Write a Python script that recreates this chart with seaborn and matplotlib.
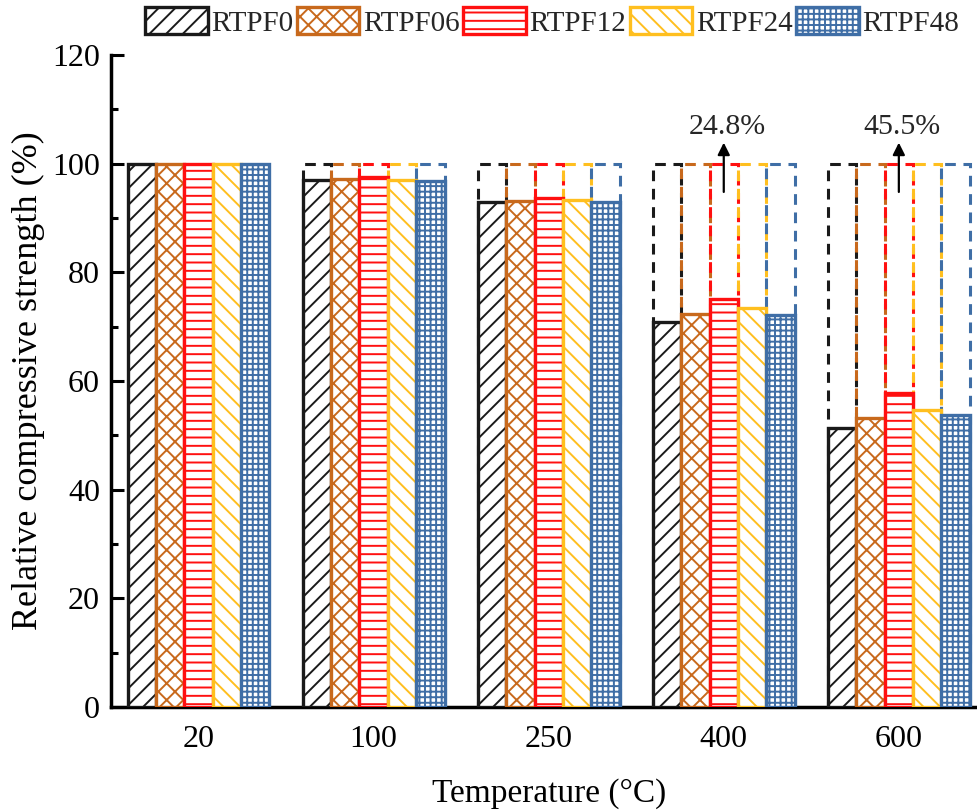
import numpy as np
import pandas as pd
import matplotlib
matplotlib.use("Agg")
import matplotlib.pyplot as plt
import seaborn as sns
from matplotlib.patches import Patch

# data
temperatures = ["20", "100", "250", "400", "600"]
series = ["RTPF0", "RTPF06", "RTPF12", "RTPF24", "RTPF48"]
rtpf0 = [100.0, 97.0, 92.9, 70.8, 51.4]
rtpf06 = [100.0, 97.2, 93.2, 72.4, 53.2]
rtpf12 = [100.0, 97.6, 93.7, 75.2, 57.8]
rtpf24 = [100.0, 97.0, 93.4, 73.5, 54.6]
rtpf48 = [100.0, 96.9, 93.0, 72.1, 53.7]
reference = [np.nan, 100.0, 100.0, 100.0, 100.0]
gains = {"400": "24.8%", "600": "45.5%"}

colors = ["#1a1a1a", "#c8691c", "#ff1010", "#ffbf1f", "#3f6ea6"]
hatches = ["//", "xx", "--", "\\\\", "+++"]

values = [rtpf0, rtpf06, rtpf12, rtpf24, rtpf48]
df = pd.DataFrame(
    [(t, s, v[i]) for s, v in zip(series, values) for i, t in enumerate(temperatures)],
    columns=["temperature", "group", "strength"],
)
ref_df = pd.DataFrame(
    [(t, s, reference[i]) for s in series for i, t in enumerate(temperatures)],
    columns=["temperature", "group", "strength"],
)

sns.set_theme(style="ticks")
plt.rcParams["font.family"] = ["Liberation Serif", "DejaVu Serif"]
plt.rcParams["hatch.linewidth"] = 1.4

fig = plt.figure(figsize=(9.77, 8.10), dpi=100)
ax = fig.add_axes([0.1136, 0.127, 0.896, 0.805])

# dashed outlines at the 20 °C reference level
sns.barplot(
    data=ref_df, x="temperature", y="strength", hue="group",
    order=temperatures, hue_order=series, width=0.81, gap=0,
    palette=colors, fill=False, linewidth=2.2, linestyle=(0, (3.5, 2.5)),
    legend=False, ax=ax, zorder=1,
)
for cont, c in zip(ax.containers, colors):
    for p in cont:
        p.set_edgecolor(c)

n_ref = len(ax.containers)
sns.barplot(
    data=df, x="temperature", y="strength", hue="group",
    order=temperatures, hue_order=series, width=0.81, gap=0,
    palette=colors, linewidth=2.4, legend=False, ax=ax, zorder=3,
)
for cont, c, h in zip(ax.containers[n_ref:], colors, hatches):
    for p in cont:
        p.set_facecolor("white")
        p.set_edgecolor(c)
        p.set_hatch(h)

for t, label in gains.items():
    xi = temperatures.index(t)
    ax.annotate(
        "", xy=(xi, 104.4), xytext=(xi, 94.3),
        arrowprops=dict(arrowstyle="-|>", color="black", lw=1.6, mutation_scale=18),
        zorder=5,
    )
    ax.text(xi + 0.02, 106.8, label, ha="center", va="center", fontsize=21.5)

ax.set_xlim(-0.5, 4.5)
ax.set_ylim(0, 120)
ax.set_yticks(np.arange(0, 121, 20))
ax.set_yticks(np.arange(10, 120, 20), minor=True)
ax.tick_params(axis="both", which="major", direction="in", length=9, width=2.2,
               labelsize=23, color="black", labelcolor="black")
ax.tick_params(axis="y", which="minor", direction="in", length=5, width=2.2, color="black")
ax.tick_params(axis="x", pad=13)
ax.tick_params(axis="y", pad=8)
for side in ["top", "right"]:
    ax.spines[side].set_visible(False)
for side in ["left", "bottom"]:
    ax.spines[side].set_linewidth(2.5)
    ax.spines[side].set_color("black")

ax.set_xlabel("Temperature (°C)", fontsize=24, labelpad=17, color="black")
ax.set_ylabel("Relative compressive strength (%)", fontsize=26, labelpad=5, color="black")

handles = [
    Patch(facecolor="white", edgecolor=c, hatch=h, linewidth=2.4, label=s)
    for c, h, s in zip(colors, hatches, series)
]
fig.legend(
    handles=handles, loc="center", bbox_to_anchor=(0.565, 0.973), ncol=5,
    frameon=False, fontsize=21, handlelength=2.15, handleheight=1.05,
    handletextpad=0.12, columnspacing=0.12, borderaxespad=0,
)

fig.savefig("out.png", dpi=100)
